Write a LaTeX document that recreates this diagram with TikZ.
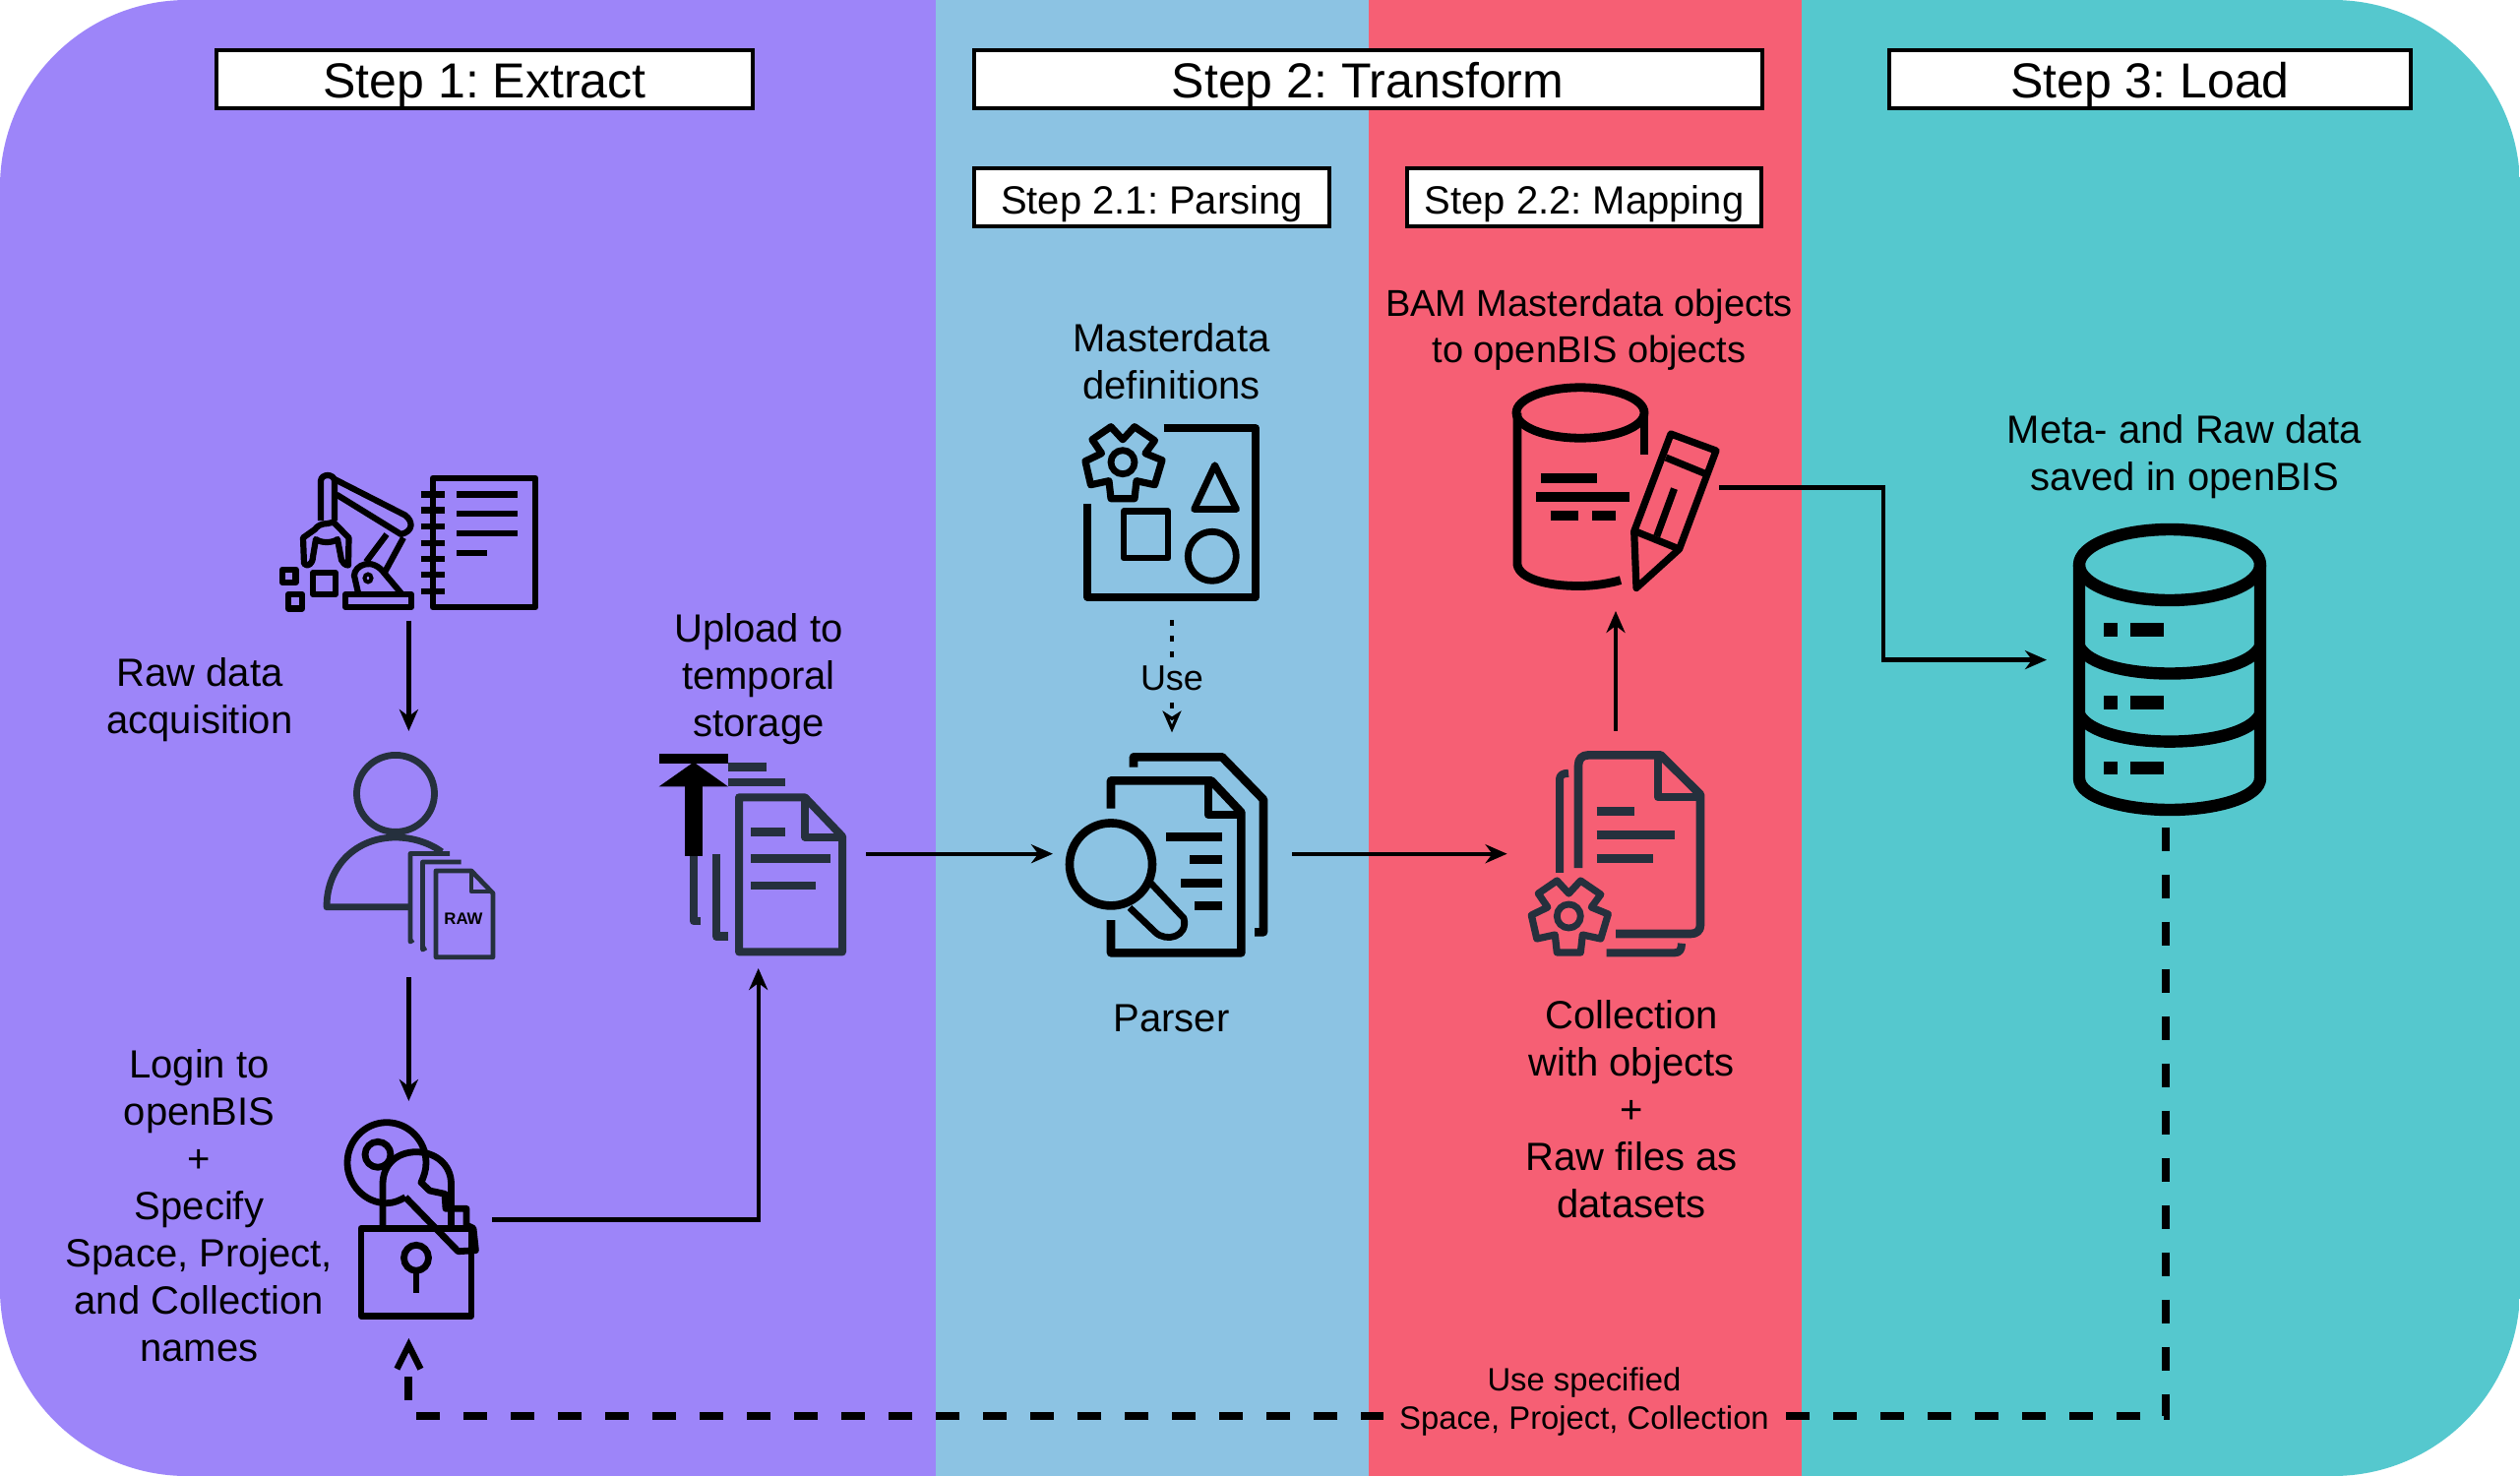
\documentclass[tikz,border=0pt]{standalone}
\usepackage{fontspec}
\setmainfont{Liberation Sans}
\usetikzlibrary{arrows.meta}
\definecolor{panelpurple}{HTML}{9D85F9}
\definecolor{panelblue}{HTML}{8CC3E3}
\definecolor{panelred}{HTML}{F65F74}
\definecolor{panelteal}{HTML}{55C8CE}
\definecolor{icondark}{HTML}{25303D}
\tikzset{
  x=0.5pt,y=-0.5pt,
  header/.style={draw=black,fill=white,line width=2pt,inner sep=0pt,text height=19pt,text depth=0pt,font=\fontsize{25}{30}\selectfont},
  subheader/.style={draw=black,fill=white,line width=2pt,inner sep=0pt,text height=16.7pt,text depth=0pt,font=\fontsize{20}{24}\selectfont},
  caption/.style={align=center,inner sep=0pt,text=black,font=\fontsize{20}{24}\selectfont},
  conn/.style={draw=black,line width=2.2pt,-{Stealth[length=11pt,width=9.5pt,inset=3.5pt]}},
  dotconn/.style={draw=black,line width=2pt,dash pattern=on 3pt off 5pt},
  dashconn/.style={draw=black,line width=4pt,dash pattern=on 12pt off 12pt},
  iconk/.style={draw=black,line width=3.4pt,line join=round,line cap=butt},
  icond/.style={draw=icondark,line width=3.4pt,line join=round,line cap=butt},
  barsk/.style={draw=black,line width=4.4pt},
  barsd/.style={draw=icondark,line width=4.4pt},
  gearicon/.pic={
    \draw[line width=3.6pt,line join=round] (-12,-36) -- (0,-23) -- (12,-36) -- (32.5,-22) -- (23,-9) -- (40,-2) -- (32.5,23) -- (14,19) -- (12,37) -- (-12,37) -- (-14,19) -- (-32.5,23) -- (-38,-1) -- (-21.5,-9) -- (-31,-23) -- cycle;
    \draw[line width=3.4pt] (0,0) ellipse [x radius=12,y radius=12];
  }
}
\begin{document}
\frenchspacing
\begin{tikzpicture}
\useasboundingbox (0,0) rectangle (2561,1500);
% panels
\begin{scope}
  \clip[rounded corners=95pt] (0,0) rectangle (2561,1500);
  \fill[panelpurple] (0,0) rectangle (951,1500);
  \fill[panelblue] (951,0) rectangle (1391,1500);
  \fill[panelred] (1391,0) rectangle (1831,1500);
  \fill[panelteal] (1831,0) rectangle (2561,1500);
\end{scope}
% headers
\node[header,minimum width=545pt*0.5,minimum height=29.5pt] (hextract) at (492.5,80.5) {Step 1: Extract};
\node[header,minimum width=801pt*0.5,minimum height=29.5pt] (htransform) at (1390,80.5) {Step 2: Transform};
\node[header,minimum width=530pt*0.5,minimum height=29.5pt] (hload) at (2185,80.5) {Step 3: Load};
\node[subheader,minimum width=361pt*0.5,minimum height=29.5pt] (hparse) at (1170.5,200.5) {Step 2.1: Parsing};
\node[subheader,minimum width=360pt*0.5,minimum height=29.5pt] (hmap) at (1610,200.5) {Step 2.2: Mapping};
% captions
\node[caption] (traw) at (203,711) {Raw data\\acquisition};
\node[caption] (tupload) at (771,690.5) {Upload to\\temporal\\storage};
\node[caption] (tlogin) at (202.5,1225) {Login to\\openBIS\\+\\Specify\\Space, Project,\\and Collection\\names};
\node[caption] (tmaster) at (1190.5,367.6) {Masterdata\\definitions};
\node[caption] (tparser) at (1190.5,1034.5) {Parser};
\node[caption,font=\fontsize{19}{23.5}\selectfont] (tbam) at (1615,334.7) {BAM Masterdata objects\\to openBIS objects};
\node[caption] (tcoll) at (1658,1127) {Collection\\with objects\\+\\Raw files as\\datasets};
\node[caption] (tmeta) at (2220,463.7) {Meta- and Raw data\\saved in openBIS};
% robot and notebook
\draw[iconk,line width=3.1pt] (326,529) -- (326,489) .. controls (326,481) and (340,481) .. (340,489) -- (340,529);
\draw[iconk,line width=3.1pt] (340,487) -- (412,523.7) .. controls (420,530) and (420,540) .. (407.5,543) -- (342,502.6);
\draw[iconk,line width=3.1pt] (393,543) -- (372,571);
\draw[iconk,line width=3.1pt] (410,546.5) -- (391,581.5);
\draw[iconk,line width=3.1pt] (364,602.6) -- (360,585) .. controls (360,575) and (378,565) .. (391,583) -- (407.5,602.6);
\draw[line width=2pt] (374,587.5) ellipse [x radius=3.5,y radius=4];
\draw[iconk,line width=3.1pt] (351,604) rectangle (418,617);
\draw[iconk,line width=3.1pt] (333,532) .. controls (326,532) and (322,535) .. (320,538) -- (308,546.5) -- (309,572.8) -- (312,574.5) .. controls (316,574) and (318,570) .. (318,566) -- (321,548) .. controls (326,552) and (338,552) .. (343,548) -- (347,569) .. controls (348,572) and (351,574.5) .. (354,574.5) -- (354.5,546.5) -- (339,530.7) -- cycle;
\draw[iconk,line width=3.1pt] (287,578.7) rectangle (300.5,592);
\draw[iconk,line width=3.1pt] (318,582) rectangle (341,604);
\draw[iconk,line width=3.1pt] (293,604) rectangle (307,618.4);
\draw[iconk] (440,486) rectangle (544,617);
\foreach \ry in {502.6,518.4,535.2,551.7,567.9,584,600.8}{
  \draw[barsk,line width=3.2pt] (427.5,\ry) -- (452,\ry);
}
\draw[barsk,line width=3.2pt] (464,502.6) -- (526,502.6);
\draw[barsk,line width=3.2pt] (464,522) -- (526,522);
\draw[barsk,line width=3.2pt] (464,542) -- (526,542);
\draw[barsk,line width=3.2pt] (464,562) -- (495,562);
\coordinate (robotout) at (415.4,630.7);
% person with raw files
\draw[icond] (402,806.4) ellipse [x radius=39.5,y radius=39];
\draw[icond] (416,921.8) -- (332,921.8) .. controls (332,880) and (362,851) .. (402,851) .. controls (420,851) and (437,857) .. (449,865.7);
\draw[icond,line width=2.4pt] (420,955) -- (417,957) -- (417,867.5) -- (457,867.5);
\draw[icond,line width=2.4pt] (433,963) -- (429.5,965) -- (429.5,876) -- (468.5,876);
\draw[icond,line width=2.4pt] (443,885) -- (479,885) -- (501,907.8) -- (501,972.7) -- (443,972.7) -- cycle;
\draw[icond,line width=2.4pt] (479,885) -- (479,906) -- (501,906);
\node[inner sep=0pt,font=\fontsize{8.4}{10}\selectfont\bfseries,text=black] (traw2) at (471,933.4) {RAW};
\coordinate (personin) at (415.4,743);
\coordinate (personout) at (415.4,993);
% lock and key
\draw[iconk] (367,1248.3) rectangle (479,1337.3);
\draw[iconk] (423,1278.3) ellipse [x radius=12.5,y radius=13];
\draw[iconk] (423,1293.3) -- (423,1314);
\draw[iconk] (389,1246.7) -- (389,1203.3) .. controls (389,1183) and (404,1170.7) .. (423,1170.7) .. controls (442,1170.7) and (458.5,1183) .. (458.5,1203.3) -- (458.5,1246.7);
\draw[iconk] (384,1173.3) ellipse [x radius=13,y radius=13];
\draw[iconk] (412,1216.7) -- (465.6,1271.7) -- (483.4,1270.7) -- (481,1248.3) -- (474,1245) -- (474,1228.3) -- (453,1228.3) -- (452,1213.3) -- (436.6,1210) -- (428,1201.7) .. controls (431,1195) and (433,1189) .. (433,1181.7) .. controls (433,1159) and (415,1140.7) .. (393,1140.7) .. controls (371,1140.7) and (353,1159) .. (353,1181.7) .. controls (353,1204) and (371,1222.7) .. (393,1222.7) .. controls (400,1222.7) and (406,1220) .. (412,1216.7);
\coordinate (lockin) at (415.4,1119);
\coordinate (lockout) at (500.4,1239.3);
\coordinate (lockback) at (415.4,1360);
% upload documents
\draw[icond,line width=4pt] (751,810.3) -- (818,810.3) -- (856,850) -- (856,967.4) -- (751,967.4) -- cycle;
\draw[icond,line width=4pt] (818,811) -- (818,850.6) -- (856,850.6);
\draw[barsd] (763,845.7) -- (798,845.7);
\draw[barsd] (763,872.7) -- (844,872.7);
\draw[barsd] (763,900) -- (829,900);
\draw[icond,line width=4.4pt] (712,935.9) -- (705,935.9) -- (705,867.5);
\draw[icond,line width=4.4pt] (740,951.6) -- (728,951.6) -- (728,867.5);
\draw[barsd] (740,779.8) -- (778.6,779.8);
\draw[barsd] (740,795) -- (798,795);
\fill[black] (669.6,765.7) rectangle (740,775.6);
\fill[black] (669.6,799.4) -- (740,799.4) -- (705,774.5) -- cycle;
\fill[black] (696,790) rectangle (713.5,870);
\coordinate (uploadin) at (770.7,984);
\coordinate (uploadout) at (880,867.7);
% masterdata icon
\draw[iconk,line width=4pt] (1182.5,435.2) -- (1276,435.2) -- (1276,606.7) -- (1105,606.7) -- (1105,512);
\pic[draw=black] (gearm) at (1141,469.7) {gearicon};
\draw[iconk] (1234.6,472.7) -- (1213.6,517.5) -- (1256.6,517.5) -- cycle;
\draw[iconk] (1142,519.8) rectangle (1187,566.9);
\draw[iconk] (1231.8,565.3) ellipse [x radius=24.5,y radius=25];
\coordinate (masterout) at (1191,630.4);
\coordinate (usetop) at (1191,668);
% parser icon
\draw[iconk,line width=4.3pt] (1152,779.6) -- (1152,769.3) -- (1242,769.3) -- (1284,812.5) -- (1284,947.3) -- (1275,947.3);
\draw[iconk,line width=4.3pt] (1129,821.7) -- (1129,793.4) -- (1231,793.4) -- (1261.4,825.6) -- (1261.4,968.3) -- (1129,968.3) -- (1129,935);
\draw[iconk,line width=4.3pt] (1228,794) -- (1228,827.9) -- (1261,827.9);
\draw[iconk,line width=4.3pt] (1129,878.4) ellipse [x radius=42,y radius=42];
\draw[iconk] (1148,922.4) -- (1174,947.3) .. controls (1185,958) and (1208,952) .. (1203,933) -- (1169.6,897.5);
\draw[barsk] (1185,850.4) -- (1242,850.4);
\draw[barsk] (1209,873.8) -- (1242,873.8);
\draw[barsk] (1200,897.5) -- (1242,897.5);
\draw[barsk] (1214,920.5) -- (1242,920.5);
\coordinate (parserin) at (1191,744.4);
\coordinate (parserleft) at (1070,867.7);
\coordinate (parserout) at (1313,867.7);
% collection icon
\draw[icond,line width=4.3pt] (1604,882) -- (1604,778) .. controls (1604,771) and (1608,767.4) .. (1614,767.4) -- (1687.6,767.4) -- (1728,807.5) -- (1728,940) .. controls (1728,946) and (1724,949) .. (1718,949) -- (1642,949);
\draw[icond,line width=4.3pt] (1685,769) -- (1685,810) -- (1728,810);
\draw[icond,line width=4pt] (1585,886.8) -- (1585,792) .. controls (1585,788) and (1588,785.8) .. (1594,785.8);
\draw[icond,line width=4pt] (1632.6,968.3) -- (1702,968.3) .. controls (1707,968.3) and (1709,965) .. (1709,958.7);
\draw[barsd] (1622.5,824.8) -- (1661,824.8);
\draw[barsd] (1622.5,848.5) -- (1702,848.5);
\draw[barsd] (1622.5,872.6) -- (1680,872.6);
\pic[draw=icondark] (gearc) at (1594.3,931) {gearicon};
\coordinate (collin) at (1531.6,867.7);
\coordinate (collout) at (1642,742.5);
% BAM cylinder with pencil
\draw[iconk,line width=4.4pt] (1606,419.5) ellipse [x radius=65,y radius=25.7];
\draw[iconk,line width=4.4pt] (1542,419.5) -- (1542,573.7) .. controls (1544,588) and (1572,595.5) .. (1604.6,595.5) .. controls (1620,595.5) and (1635,593) .. (1647,589.6);
\draw[iconk,line width=4.4pt] (1671,419.5) -- (1671,461.8);
\draw[barsk,line width=5pt] (1566,485.6) -- (1623,485.6);
\draw[barsk,line width=5pt] (1561,504.5) -- (1656,504.5);
\draw[barsk,line width=5pt] (1575.5,524) -- (1604,524);
\draw[barsk,line width=5pt] (1618,524) -- (1642,524);
\draw[iconk,line width=3.6pt] (1698,441) -- (1744,458) -- (1706.6,558) -- (1663,597.5) -- (1660.7,540) -- cycle;
\draw[iconk,line width=3.6pt] (1693,465) -- (1732,481);
\draw[iconk,line width=3.6pt] (1662,540) -- (1706.6,558);
\draw[iconk,line width=3.6pt] (1701.5,496.6) -- (1683.7,545);
\coordinate (bamin) at (1642,621);
\coordinate (bamout) at (1747,495.5);
% database
\draw[iconk,line width=6.2pt] (2205,574) ellipse [x radius=92,y radius=36];
\draw[iconk,line width=6.2pt] (2113,574) -- (2113,791) .. controls (2113,810) and (2157,823) .. (2205,823) .. controls (2253,823) and (2297,810) .. (2297,791) -- (2297,574);
\draw[iconk,line width=6.2pt] (2113,657) .. controls (2122,675) and (2162,684.5) .. (2205,684.5) .. controls (2248,684.5) and (2288,675) .. (2297,657);
\draw[iconk,line width=6.2pt] (2113,726) .. controls (2122,744) and (2162,753.6) .. (2205,753.6) .. controls (2248,753.6) and (2288,744) .. (2297,726);
\foreach \my in {640,714,780.6}{
  \draw[barsk,line width=6.7pt] (2138,\my) -- (2152,\my);
  \draw[barsk,line width=6.7pt] (2165,\my) -- (2199,\my);
}
\coordinate (dbin) at (2080,670.6);
\coordinate (dbout) at (2200.5,840.6);
\coordinate (cornerright) at (2200.5,1439.3);
\coordinate (cornerleft) at (415.4,1439.3);
\coordinate (bendup) at (1913.8,495.5);
\coordinate (benddown) at (1913.8,670.6);
\coordinate (lockbend) at (770.7,1239.3);
% connectors
\draw[conn] (robotout) -- (personin);
\draw[conn] (personout) -- (lockin);
\draw[conn] (lockout) -- (lockbend) -- (uploadin);
\draw[conn] (uploadout) -- (parserleft);
\draw[conn] (parserout) -- (collin);
\draw[conn] (collout) -- (bamin);
\draw[conn] (bamout) -- (bendup) -- (benddown) -- (dbin);
\node[caption,font=\fontsize{18}{22}\selectfont] (tuse) at (1191,689) {Use};
\draw[dotconn] (masterout) -- (usetop);
\draw[dotconn,-{Stealth[open,length=11pt,width=9.5pt,inset=3pt,line width=1.6pt]}] (tuse.south) ++(0,12) -- (parserin);
\draw[dashconn,-{Straight Barb[length=12pt,width=12pt,line width=3.2pt]}] (dbout) -- (cornerright) -- (cornerleft) -- (lockback);
\node[caption,fill=panelred,inner xsep=8pt,inner ysep=2pt,font=\fontsize{16.4}{19.5}\selectfont] (tspec) at (1610,1425) {Use specified\\Space, Project, Collection};
\end{tikzpicture}
\end{document}
